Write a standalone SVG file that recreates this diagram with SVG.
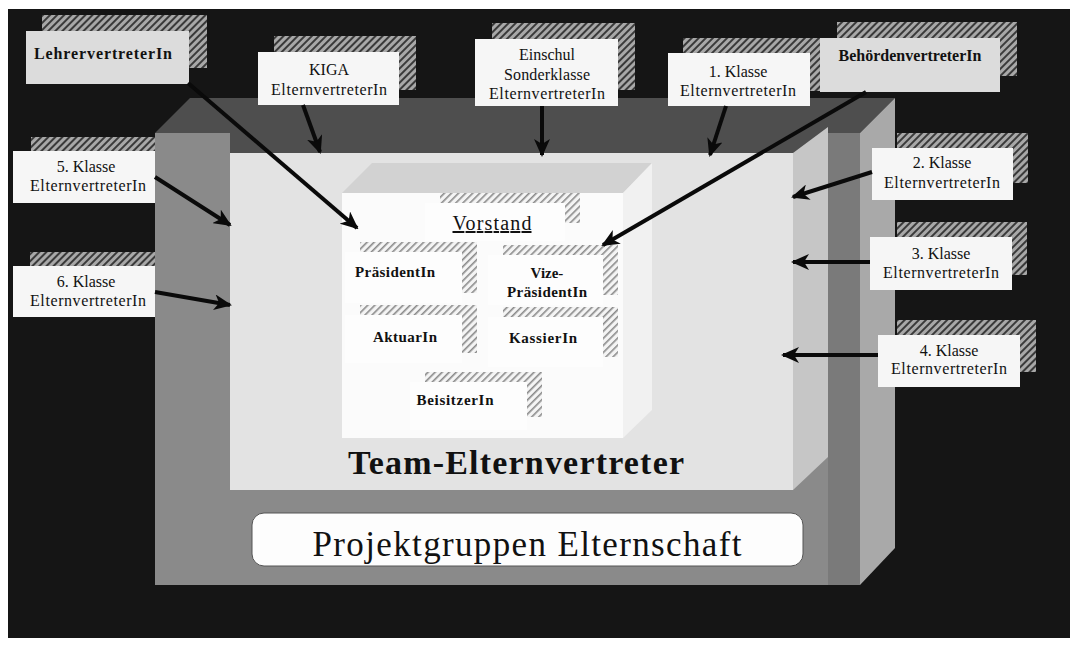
<svg xmlns="http://www.w3.org/2000/svg" width="1081" height="647" viewBox="0 0 1081 647">
<defs>
<style>
.lbl{font-family:"Liberation Serif","Times New Roman",serif;font-size:16px;fill:#111;text-anchor:middle}
.lblb{font-family:"Liberation Serif","Times New Roman",serif;font-size:16px;font-weight:bold;fill:#111;text-anchor:middle}
.sub{font-family:"Liberation Serif","Times New Roman",serif;font-size:15px;font-weight:bold;fill:#111;text-anchor:middle}
.box{fill:#f6f6f6}
.boxg{fill:#dcdcdc}
.hd{fill:url(#hatchDark)}
.hl{fill:url(#hatchLight)}
.wb{fill:#fdfdfd}
.arr{stroke:#0a0a0a;stroke-width:4;fill:none;marker-end:url(#ah)}
</style>
<pattern id="hatchDark" width="5" height="5" patternUnits="userSpaceOnUse" patternTransform="rotate(45)">
<rect width="5" height="5" fill="#a8a8a8"/>
<rect width="2" height="5" fill="#3a3a3a"/>
</pattern>
<pattern id="hatchLight" width="5" height="5" patternUnits="userSpaceOnUse" patternTransform="rotate(45)">
<rect width="5" height="5" fill="#f4f4f4"/>
<rect width="1.6" height="5" fill="#8a8a8a"/>
</pattern>
<marker id="ah" markerWidth="18" markerHeight="16" refX="16" refY="8" orient="auto" markerUnits="userSpaceOnUse">
<path d="M0,0 L18,8 L0,16 L5,8 Z" fill="#0a0a0a"/>
</marker>
</defs>
<rect width="1081" height="647" fill="#ffffff"/>
<rect x="8" y="9" width="1062" height="629" fill="#151515"/>

<g id="node-5klasse-shadow"><rect class="hd" x="31" y="137" width="142" height="52"/></g>
<g id="node-6klasse-shadow"><rect class="hd" x="30" y="252" width="142" height="52"/></g>

<g id="projektgruppen">
<rect x="155" y="133" width="705" height="452" fill="#8a8a8a"/>
<polygon points="155,133 190,98 895,98 860,133" fill="#4e4e4e"/>
<rect x="230" y="133" width="600" height="20" fill="#4e4e4e"/>
<polygon points="860,133 895,98 895,548 860,585" fill="#a9a9a9"/>
<rect x="828" y="133" width="32" height="452" fill="#7a7a7a"/>
<rect x="252" y="513" width="551" height="53" rx="12" fill="#fdfdfd" stroke="#555" stroke-width="1"/>
<text x="527" y="556" font-family="Liberation Serif, Times New Roman, serif" font-size="35" fill="#111" text-anchor="middle" textLength="429" lengthAdjust="spacing">Projektgruppen Elternschaft</text>
</g>

<g id="team">
<rect x="230" y="153" width="563" height="337" fill="#e3e3e3"/>
<polygon points="793,153 828,127 828,457 793,490" fill="#c6c6c6"/>
<text x="516" y="474" font-family="Liberation Serif, Times New Roman, serif" font-size="34" font-weight="bold" fill="#111" text-anchor="middle" textLength="336" lengthAdjust="spacing">Team-Elternvertreter</text>
</g>

<g id="vorstand">
<polygon points="342,193 372,163 652,163 623,193" fill="#d2d2d2"/>
<rect x="342" y="193" width="281" height="245" fill="#fbfbfb"/>
<polygon points="623,193 652,163 652,410 623,438" fill="#f1f1f1"/>
<rect class="hl" x="440" y="193" width="140" height="30"/>
<rect class="wb" x="425" y="203" width="140" height="38"/>
<text x="492" y="230" font-family="Liberation Serif, Times New Roman, serif" font-size="20" fill="#111" text-anchor="middle" text-decoration="underline" textLength="79" lengthAdjust="spacing">Vorstand</text>
</g>

<g id="praesident">
<rect class="hl" x="360" y="242" width="117" height="51"/>
<rect class="wb" x="345" y="252" width="117" height="51"/>
<text class="sub" x="395" y="277" textLength="80" lengthAdjust="spacing">PräsidentIn</text>
</g>
<g id="vize">
<rect class="hl" x="503" y="245" width="115" height="50"/>
<rect class="wb" x="488" y="255" width="115" height="50"/>
<text class="sub" x="547" y="278">Vize-</text>
<text class="sub" x="547" y="297" textLength="80" lengthAdjust="spacing">PräsidentIn</text>
</g>
<g id="aktuar">
<rect class="hl" x="360" y="305" width="117" height="48"/>
<rect class="wb" x="345" y="315" width="117" height="48"/>
<text class="sub" x="405" y="342" textLength="64" lengthAdjust="spacing">AktuarIn</text>
</g>
<g id="kassier">
<rect class="hl" x="503" y="307" width="115" height="50"/>
<rect class="wb" x="488" y="317" width="115" height="50"/>
<text class="sub" x="543" y="343" textLength="68" lengthAdjust="spacing">KassierIn</text>
</g>
<g id="beisitzer">
<rect class="hl" x="425" y="372" width="117" height="45"/>
<rect class="wb" x="410" y="382" width="117" height="48"/>
<text class="sub" x="455" y="405" textLength="77" lengthAdjust="spacing">BeisitzerIn</text>
</g>

<g id="node-lehrer">
<rect class="hd" x="42" y="15" width="165" height="53"/>
<rect class="boxg" x="26" y="31" width="163" height="53"/>
<text class="lblb" x="103" y="59" textLength="138" lengthAdjust="spacing">LehrervertreterIn</text>
</g>
<g id="node-kiga">
<rect class="hd" x="274" y="36" width="142" height="54"/>
<rect class="box" x="258" y="52" width="141" height="53"/>
<text class="lbl" x="329" y="75">KIGA</text>
<text class="lbl" x="329" y="95" textLength="116" lengthAdjust="spacing">ElternvertreterIn</text>
</g>
<g id="node-einschul">
<rect class="hd" x="492" y="23" width="143" height="67"/>
<rect class="box" x="475" y="39" width="143" height="67"/>
<text class="lbl" x="547" y="60">Einschul</text>
<text class="lbl" x="547" y="80" textLength="86" lengthAdjust="spacing">Sonderklasse</text>
<text class="lbl" x="547" y="99" textLength="116" lengthAdjust="spacing">ElternvertreterIn</text>
</g>
<g id="node-1klasse">
<rect class="hd" x="683" y="38" width="142" height="53"/>
<rect class="box" x="668" y="53" width="142" height="53"/>
<text class="lbl" x="738" y="77">1. Klasse</text>
<text class="lbl" x="738" y="96" textLength="116" lengthAdjust="spacing">ElternvertreterIn</text>
</g>
<g id="node-behoerden">
<rect class="hd" x="837" y="22" width="180" height="54"/>
<rect class="boxg" x="820" y="38" width="180" height="54"/>
<text class="lblb" x="910" y="61" textLength="143" lengthAdjust="spacing">BehördenvertreterIn</text>
</g>
<g id="node-2klasse">
<rect class="hd" x="897" y="133" width="131" height="50"/>
<rect class="box" x="872" y="148" width="141" height="52"/>
<text class="lbl" x="942" y="168">2. Klasse</text>
<text class="lbl" x="942" y="188" textLength="116" lengthAdjust="spacing">ElternvertreterIn</text>
</g>
<g id="node-3klasse">
<rect class="hd" x="897" y="222" width="130" height="53"/>
<rect class="box" x="870" y="237" width="142" height="53"/>
<text class="lbl" x="941" y="259">3. Klasse</text>
<text class="lbl" x="941" y="278" textLength="116" lengthAdjust="spacing">ElternvertreterIn</text>
</g>
<g id="node-4klasse">
<rect class="hd" x="897" y="320" width="139" height="52"/>
<rect class="box" x="878" y="335" width="142" height="52"/>
<text class="lbl" x="949" y="356">4. Klasse</text>
<text class="lbl" x="949" y="374" textLength="116" lengthAdjust="spacing">ElternvertreterIn</text>
</g>
<g id="node-5klasse">
<rect class="box" x="13" y="151" width="142" height="52"/>
<text class="lbl" x="86" y="172">5. Klasse</text>
<text class="lbl" x="88" y="191" textLength="116" lengthAdjust="spacing">ElternvertreterIn</text>
</g>
<g id="node-6klasse">
<rect class="box" x="13" y="266" width="142" height="51"/>
<text class="lbl" x="86" y="287">6. Klasse</text>
<text class="lbl" x="88" y="306" textLength="116" lengthAdjust="spacing">ElternvertreterIn</text>
</g>

<g id="connectors">
<line class="arr" x1="188" y1="83" x2="357" y2="228"/>
<line class="arr" x1="303" y1="105" x2="320" y2="152"/>
<line class="arr" x1="542" y1="106" x2="542" y2="155"/>
<line class="arr" x1="726" y1="106" x2="710" y2="155"/>
<line class="arr" x1="866" y1="92" x2="603" y2="245"/>
<line class="arr" x1="872" y1="172" x2="793" y2="197"/>
<line class="arr" x1="870" y1="262" x2="793" y2="262"/>
<line class="arr" x1="878" y1="355" x2="783" y2="355"/>
<line class="arr" x1="155" y1="177" x2="230" y2="225"/>
<line class="arr" x1="155" y1="292" x2="230" y2="305"/>
</g>
</svg>
